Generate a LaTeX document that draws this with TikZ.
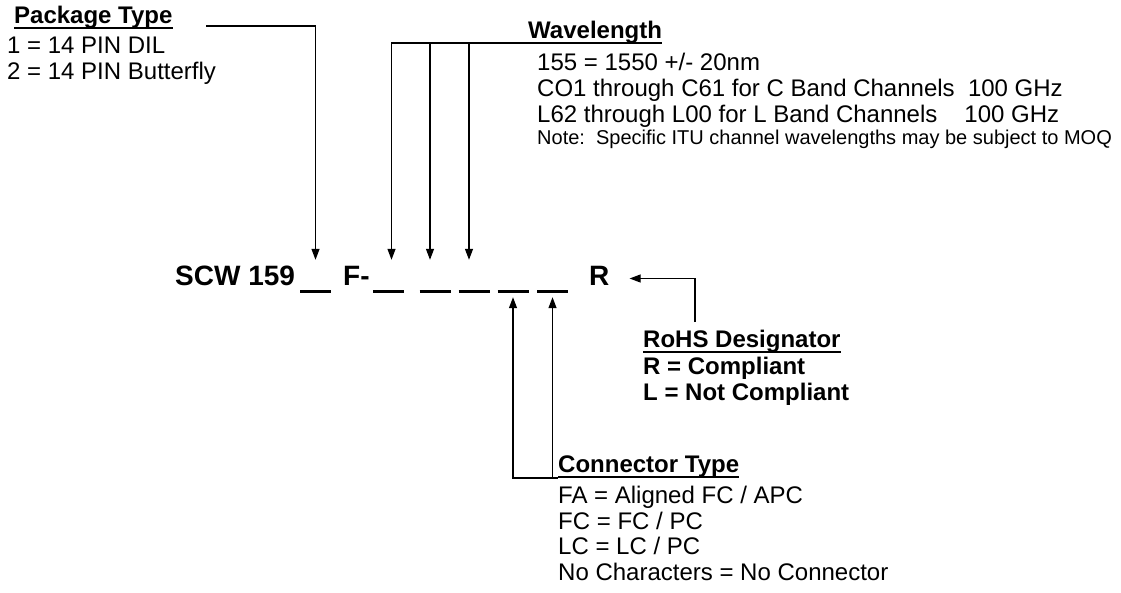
\documentclass[tikz,border=0pt]{standalone}
\usepackage{fontspec}
\setmainfont{Liberation Sans}
\usetikzlibrary{positioning,calc,arrows.meta}

% underlined heading, rule runs through the descenders
\newsavebox{\headbox}
\newcommand{\ulhead}[1]{\sbox{\headbox}{#1}\rlap{\rule[-5.6pt]{\wd\headbox}{1.3pt}}\usebox{\headbox}}
% blank to be filled in
\newcommand{\blank}{\rule[-8pt]{31pt}{2.6pt}}

\tikzset{
  body/.style={font=\fontsize{24}{26}\selectfont, inner sep=0pt, anchor=base west},
  head/.style={body, font=\fontsize{24}{26}\selectfont\bfseries},
  note/.style={body, font=\fontsize{20}{22}\selectfont},
  code/.style={font=\fontsize{28}{30}\selectfont\bfseries, inner sep=3pt, anchor=base,
    text height=22pt, text depth=9pt},
  slot/.style={code, inner xsep=0pt},
  lead/.style={line width=1.2pt, -{Triangle[length=11pt,width=8pt]}},
}

\begin{document}
\begin{tikzpicture}[x=1pt, y=-1pt]
  \useasboundingbox (0,0) rectangle (1121,592);

  % part number line (baseline y = 285)
  \node[code, anchor=base west] (scw) at (172,285) {SCW 159};
  \node[slot] (u1) at (315.5,285) {\blank};
  \node[code, anchor=base west] (fdash) at (340,285) {F-};
  \foreach \n/\xpos in {u2/388.5, u3/435, u4/474, u5/513, u6/552.5} {
    \node[slot] (\n) at (\xpos,285) {\blank};
  }
  \node[code, anchor=base west] (rmark) at (586,285) {R};

  % Package Type
  \node[head] (pkghead) at (14,23) {\ulhead{Package Type}};
  \node[body] (pkg1) at (7,53) {1 = 14 PIN DIL};
  \node[body] (pkg2) at (7,79) {2 = 14 PIN Butterfly};
  \coordinate (pkgjoin) at (206,26);
  \draw[lead] (pkgjoin) -| (u1.north);

  % Wavelength
  \node[head] (wavhead) at (528,38) {\ulhead{Wavelength}};
  \foreach \t [count=\i] in {155 = 1550 +/- 20nm,
      CO1 through C61 for C Band Channels\ \ 100 GHz,
      L62 through L00 for L Band Channels\hspace{27pt}100 GHz} {
    \node[body] (wav\i) at (537,44+26*\i) {\t};
  }
  \node[note] (wavnote) at (537,144) {Note:\ \ Specific ITU channel wavelengths may be subject to MOQ};
  \coordinate (wavjoin) at (528,43);
  \draw[lead] (wavjoin) -| ([xshift=3pt]u2.north);
  \foreach \n in {u3, u4} {
    \draw[lead] ([xshift=-5pt]\n.north |- wavjoin) -- ([xshift=-5pt]\n.north);
  }

  % RoHS Designator
  \node[head] (rohshead) at (643,347) {\ulhead{RoHS Designator}};
  \node[head] (rohs1) at (643,374) {R = Compliant};
  \node[head] (rohs2) at (643,400) {L = Not Compliant};
  \coordinate (rohsturn) at (695,322);
  \draw[lead] (rohsturn) |- ([xshift=17pt]rmark.east);

  % Connector Type
  \node[head] (conhead) at (558,472) {\ulhead{Connector Type}};
  \foreach \t [count=\i] in {FA = Aligned FC / APC, FC = FC / PC, LC = LC / PC,
      No Characters = No Connector} {
    \node[body] (con\i) at (558,478+25.5*\i) {\t};
  }
  \coordinate (conjoin) at (558,478);
  \draw[lead] (conjoin) -| (u5.south);
  \draw[lead] (u6.south |- conjoin) -- (u6.south);
\end{tikzpicture}
\end{document}
